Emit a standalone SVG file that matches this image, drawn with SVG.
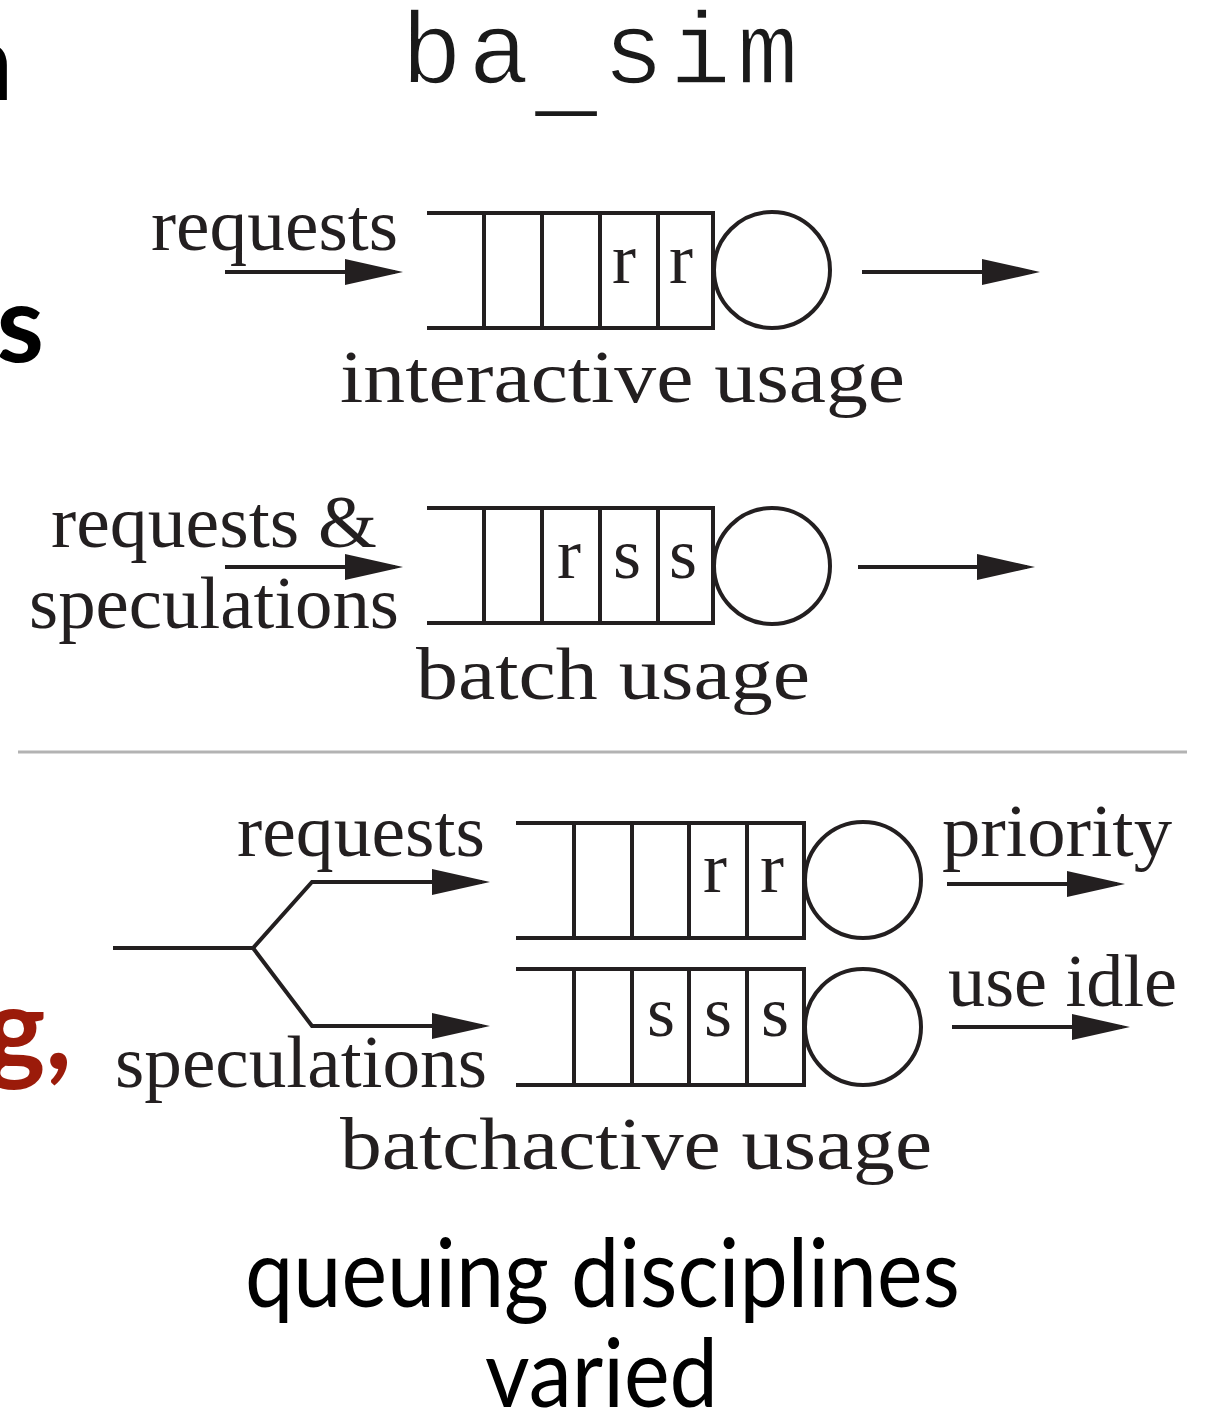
<svg xmlns="http://www.w3.org/2000/svg" width="1206" height="1418" viewBox="0 0 1206 1418">
  <style>
    .bg { fill: #ffffff; }
    .ln { fill: none; stroke: #231f20; stroke-width: 4; }
    .srv { fill: none; stroke: #231f20; stroke-width: 4; }
    .lbl { font-family: "Liberation Serif", "Times New Roman", serif; font-size: 73px; fill: #231f20; }
    .cell { font-family: "Liberation Serif", "Times New Roman", serif; font-size: 72px; fill: #231f20; text-anchor: middle; }
    .mono { font-family: "Liberation Mono", "Courier New", monospace; font-size: 102px; letter-spacing: 6px; fill: #1a1a1a; stroke: #ffffff; stroke-width: 1.6px; paint-order: normal; }
    .slide { font-family: Lato, "Open Sans", sans-serif; font-size: 95px; fill: #000000; }
    .edge { font-family: Lato, "Open Sans", sans-serif; font-size: 108px; font-weight: bold; fill: #000000; text-anchor: end; }
    .sep { stroke: #b3b3b3; stroke-width: 3; }
  </style>
  <defs>
    <marker id="head" viewBox="0 0 58 26" refX="50" refY="13" markerWidth="58" markerHeight="26" markerUnits="userSpaceOnUse" orient="auto">
      <path d="M0,0 L58,13 L0,26 Z" fill="#231f20"/>
    </marker>
  </defs>

  <rect class="bg" x="0" y="0" width="1206" height="1418"/>

  <!-- slide title and clipped slide text on the left edge -->
  <text class="mono" x="401" y="83">ba<tspan dy="22" style="stroke-width:0">_</tspan><tspan dy="-22">sim</tspan></text>
  <text class="edge" x="13" y="100">n</text>
  <text class="edge" x="44" y="362">ks</text>
  <text class="edge" x="72" y="1069" style="fill:#9b1b0a;font-size:114px">g,</text>

  <!-- interactive queue -->
  <g id="q-interactive">
    <path class="ln" d="M427,213 H713 V328 H427 M484,213 V328 M542,213 V328 M600,213 V328 M658,213 V328"/>
    <circle class="srv" cx="772" cy="270" r="58"/>
    <text class="cell" x="624" y="283">r</text>
    <text class="cell" x="681" y="283">r</text>
  </g>
  <text class="lbl" x="151" y="250" textLength="247" lengthAdjust="spacingAndGlyphs">requests</text>
  <text class="lbl" x="340" y="402" textLength="565" lengthAdjust="spacingAndGlyphs">interactive usage</text>

  <!-- batch queue -->
  <g id="q-batch">
    <path class="ln" d="M427,508 H713 V623 H427 M484,508 V623 M542,508 V623 M600,508 V623 M658,508 V623"/>
    <circle class="srv" cx="772" cy="566" r="58"/>
    <text class="cell" x="569" y="578">r</text>
    <text class="cell" x="627" y="578">s</text>
    <text class="cell" x="683" y="578">s</text>
  </g>
  <text class="lbl" x="51" y="547" textLength="326" lengthAdjust="spacingAndGlyphs">requests &amp;</text>
  <text class="lbl" x="29" y="628" textLength="370" lengthAdjust="spacingAndGlyphs">speculations</text>
  <text class="lbl" x="416" y="699" textLength="394" lengthAdjust="spacingAndGlyphs">batch usage</text>

  <line class="sep" x1="18" y1="752" x2="1187" y2="752"/>

  <!-- batchactive: priority queue for requests -->
  <g id="q-priority">
    <path class="ln" d="M516,823 H804 V938 H516 M574,823 V938 M632,823 V938 M689,823 V938 M747,823 V938"/>
    <circle class="srv" cx="863" cy="880" r="58"/>
    <text class="cell" x="715" y="892">r</text>
    <text class="cell" x="772" y="892">r</text>
  </g>

  <!-- batchactive: idle queue for speculations -->
  <g id="q-idle">
    <path class="ln" d="M516,969 H804 V1085 H516 M574,969 V1085 M632,969 V1085 M689,969 V1085 M747,969 V1085"/>
    <circle class="srv" cx="863" cy="1027" r="58"/>
    <text class="cell" x="661" y="1036">s</text>
    <text class="cell" x="718" y="1036">s</text>
    <text class="cell" x="775" y="1036">s</text>
  </g>

  <text class="lbl" x="237" y="856" textLength="248" lengthAdjust="spacingAndGlyphs">requests</text>
  <text class="lbl" x="942" y="856" textLength="230" lengthAdjust="spacingAndGlyphs">priority</text>
  <text class="lbl" x="948" y="1006" textLength="229" lengthAdjust="spacingAndGlyphs">use idle</text>
  <text class="lbl" x="115" y="1087" textLength="372" lengthAdjust="spacingAndGlyphs">speculations</text>
  <text class="lbl" x="340" y="1169" textLength="592" lengthAdjust="spacingAndGlyphs">batchactive usage</text>

  <!-- connectors -->
  <g id="connectors" class="ln">
    <path d="M225,272 H395" marker-end="url(#head)"/>
    <path d="M862,272 H1032" marker-end="url(#head)"/>
    <path d="M225,567 H395" marker-end="url(#head)"/>
    <path d="M858,567 H1027" marker-end="url(#head)"/>
    <path d="M113,948 H253 L312,882 H482" marker-end="url(#head)"/>
    <path d="M253,948 L312,1026 H482" marker-end="url(#head)"/>
    <path d="M947,884 H1117" marker-end="url(#head)"/>
    <path d="M952,1027 H1122" marker-end="url(#head)"/>
  </g>

  <text class="slide" x="245" y="1307" textLength="715" lengthAdjust="spacingAndGlyphs">queuing disciplines</text>
  <text class="slide" x="485" y="1407" textLength="233" lengthAdjust="spacingAndGlyphs">varied</text>
</svg>
